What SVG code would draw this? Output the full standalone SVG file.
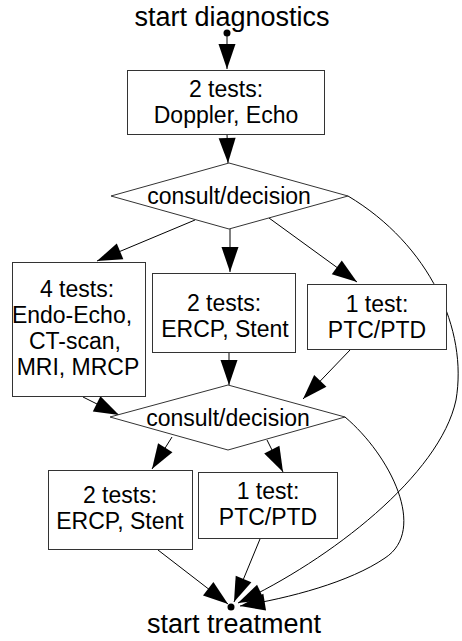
<svg xmlns="http://www.w3.org/2000/svg" width="462" height="641" viewBox="0 0 462 641">
<style>
  .box { fill: #fff; stroke: #333; stroke-width: 1; }
  .lbl { font-family: "Liberation Sans", Arial, sans-serif; font-size: 23px; fill: #000; text-anchor: middle; }
  .ttl { font-family: "Liberation Sans", Arial, sans-serif; font-size: 27px; fill: #000; text-anchor: middle; }
  .edge { fill: none; stroke: #000; stroke-width: 1; marker-end: url(#ah); }
</style>
<defs>
  <marker id="ah" markerUnits="userSpaceOnUse" markerWidth="26" markerHeight="18" refX="25" refY="8.5" orient="auto" overflow="visible">
    <path d="M0,0 L25,8.5 L0,17 Z" fill="#000"/>
  </marker>
</defs>
<rect width="462" height="641" fill="#fff"/>

<g id="connectors">
  <path class="edge" d="M227,33 L227,69"/>
  <path class="edge" d="M227,134 L228,163"/>
  <path class="edge" d="M195,220 L97,261"/>
  <path class="edge" d="M230,229 L230,272"/>
  <path class="edge" d="M269,218 L357,282"/>
  <path class="edge" d="M83,397 L119,415"/>
  <path class="edge" d="M229,353 L229,385"/>
  <path class="edge" d="M350,350 L303,399"/>
  <path class="edge" d="M172,437 L152,469"/>
  <path class="edge" d="M267,440 L283,472"/>
  <path class="edge" d="M158,550 L228,604"/>
  <path class="edge" d="M260,539 L234,602"/>
  <path class="edge" d="M348,196 C430,245 468,330 456,400 C440,475 330,560 238,603"/>
  <path class="edge" d="M345,417 C390,455 428,530 385,558 C350,582 290,598 240,606"/>
</g>

<g id="start">
  <text class="ttl" x="232" y="26">start diagnostics</text>
  <circle cx="227" cy="33" r="3.5" fill="#000"/>
</g>

<g id="tests1">
  <rect class="box" x="127.5" y="70.5" width="197" height="64"/>
  <text class="lbl" x="226" y="97">2 tests:</text>
  <text class="lbl" x="226" y="123">Doppler, Echo</text>
</g>

<g id="decision1">
  <polygon class="box" points="229,163 348,196 229,229 111,196"/>
  <text class="lbl" x="229" y="204">consult/decision</text>
</g>

<g id="tests4">
  <rect class="box" x="12.5" y="262.5" width="133" height="134"/>
  <text class="lbl" x="77" y="297">4 tests:</text>
  <text class="lbl" x="72" y="323">Endo-Echo,</text>
  <text class="lbl" x="75" y="349">CT-scan,</text>
  <text class="lbl" x="78" y="375">MRI, MRCP</text>
</g>

<g id="testsERCP1">
  <rect class="box" x="152.5" y="273.5" width="143" height="79"/>
  <text class="lbl" x="224" y="311">2 tests:</text>
  <text class="lbl" x="225" y="337">ERCP, Stent</text>
</g>

<g id="testsPTC1">
  <rect class="box" x="307.5" y="284.5" width="139" height="65"/>
  <text class="lbl" x="377" y="312">1 test:</text>
  <text class="lbl" x="377" y="338">PTC/PTD</text>
</g>

<g id="decision2">
  <polygon class="box" points="228,385 345,417 228,450 110,417"/>
  <text class="lbl" x="228" y="426">consult/decision</text>
</g>

<g id="testsERCP2">
  <rect class="box" x="48.5" y="470.5" width="144" height="79"/>
  <text class="lbl" x="120" y="503">2 tests:</text>
  <text class="lbl" x="120" y="529">ERCP, Stent</text>
</g>

<g id="testsPTC2">
  <rect class="box" x="198.5" y="472.5" width="139" height="66"/>
  <text class="lbl" x="268" y="499">1 test:</text>
  <text class="lbl" x="268" y="525">PTC/PTD</text>
</g>

<g id="end">
  <circle cx="231" cy="607" r="3.5" fill="#000"/>
  <text class="ttl" x="234" y="633">start treatment</text>
</g>
</svg>
